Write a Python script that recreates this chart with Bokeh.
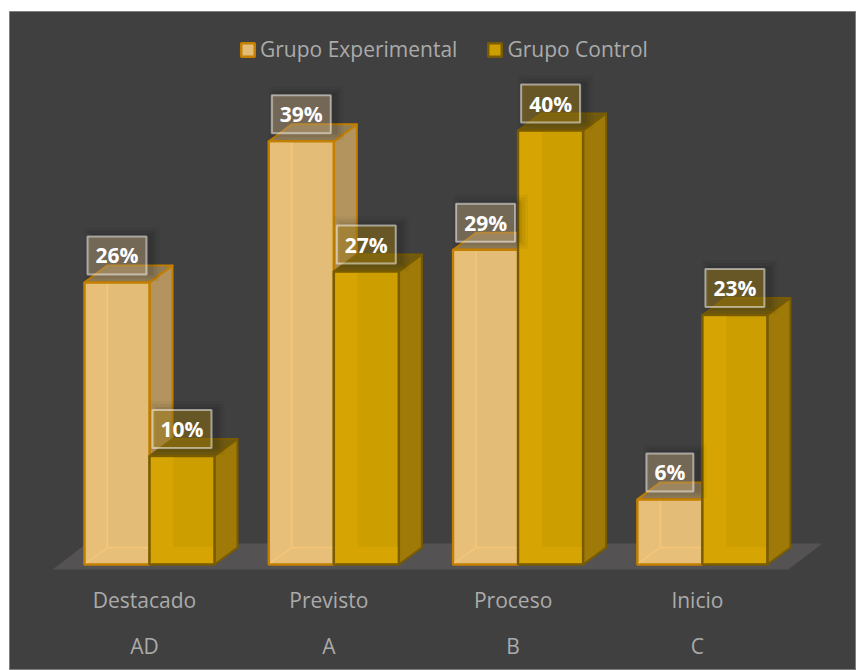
from bokeh.embed import file_html
from bokeh.resources import INLINE
from bokeh.models import ColumnDataSource, Legend, LegendItem
from bokeh.plotting import figure
from bokeh.core.properties import value

# Survey results per achievement level (percent)
niveles = ["Destacado", "Previsto", "Proceso", "Inicio"]
codigos = ["AD", "A", "B", "C"]
experimental = [26, 39, 29, 6]
control = [10, 27, 40, 23]

FONT = "Open Sans"

# Scales: pixels per category step and per percentage point
PX_X = 184.3
PX_Y = 10.85
ORIGIN_X = 149.0 - 9   # first category centre, measured from the frame's left edge
ORIGIN_Y = 564.0
FRAME_W = 847
FRAME_TOP = 11
FRAME_BOTTOM = 670

BAR_W = 65.0 / PX_X
DEPTH_X = 23 / PX_X
DEPTH_Y = 17 / PX_Y


def down(px):
    """Vertical distance in value units for a pixel distance."""
    return px / PX_Y


def across(px):
    """Horizontal distance in category units for a pixel distance."""
    return px / PX_X


p = figure(
    width=856, height=670, output_backend="svg", toolbar_location=None,
    x_axis_location=None, y_axis_location=None,
    x_range=(-ORIGIN_X / PX_X, (FRAME_W - ORIGIN_X) / PX_X),
    y_range=(-(FRAME_BOTTOM - ORIGIN_Y) / PX_Y, (ORIGIN_Y - FRAME_TOP) / PX_Y),
    min_border_left=9, min_border_top=11, min_border_right=0, min_border_bottom=0,
    background_fill_color="#404040", border_fill_color="#ffffff",
    outline_line_color="#7f7f7f", outline_line_width=1,
)
p.grid.visible = False

# Floor of the 3D box
first, last = 0, len(niveles) - 1
floor_left = first - BAR_W - across(32)
floor_right = last + BAR_W + across(21)
p.patch(
    [floor_left, floor_right, floor_right + across(34), floor_left + across(34)],
    [down(-5), down(-5), down(21), down(21)],
    fill_color="#545252", line_color=None,
)


def draw_series(values, offset, front, strip, inner, side, top, edge):
    lefts = [i + offset for i in range(len(values))]
    rights = [x + BAR_W for x in lefts]

    side_xs = [[r, r + DEPTH_X, r + DEPTH_X, r] for r in rights]
    side_ys = [[0, DEPTH_Y, v + DEPTH_Y, v] for v in values]
    p.patches(side_xs, side_ys, fill_color=side, line_color=edge, line_width=2, line_join="round")

    top_xs = [[l, r, r + DEPTH_X, l + DEPTH_X] for l, r in zip(lefts, rights)]
    top_ys = [[v, v, v + DEPTH_Y, v + DEPTH_Y] for v in values]
    p.patches(top_xs, top_ys, fill_color=top, line_color=edge, line_width=2, line_join="round")

    bars = p.vbar(
        x=[l + BAR_W / 2 for l in lefts], top=values, bottom=0, width=BAR_W,
        fill_color=front, line_color=edge, line_width=2.5,
    )

    # Interior faces seen through the translucent front
    strip_xs = [[l + across(1.5), l + DEPTH_X, l + DEPTH_X, l + across(1.5)] for l in lefts]
    strip_ys = [[down(1.5), DEPTH_Y, v - down(1.5), v - down(1.5)] for v in values]
    p.patches(strip_xs, strip_ys, fill_color=strip, line_color=None)
    floor_xs = [[l + across(1.5), r - across(1.5), r - across(1.5), l + DEPTH_X] for l, r in zip(lefts, rights)]
    floor_ys = [[down(1.5), down(1.5), DEPTH_Y, DEPTH_Y] for _ in values]
    p.patches(floor_xs, floor_ys, fill_color=strip, line_color=None)
    p.multi_line(
        [[l + DEPTH_X, l + DEPTH_X] for l in lefts],
        [[DEPTH_Y, v - down(1.5)] for v in values],
        line_color=inner, line_width=1.5,
    )
    p.multi_line(
        [[l + across(1.5), l + DEPTH_X, r - across(1.5)] for l, r in zip(lefts, rights)],
        [[down(1.5), DEPTH_Y, DEPTH_Y] for _ in values],
        line_color=inner, line_width=1.5,
    )
    return bars, lefts


bars_exp, lefts_exp = draw_series(
    experimental, -BAR_W, "#E3BC78", "#E8BF79", "#F6C678", "#B3945E", "#8F7C59", "#C27F00",
)
bars_ctl, lefts_ctl = draw_series(
    control, 0.0, "#CD9E00", "#D6A503", "#D6A503", "#9F7A08", "#6F5A12", "#7A5C00",
)

# Value labels: a soft shadow, a translucent box and the figure itself
label_x, label_y, label_w, label_t, label_fill = [], [], [], [], []
for vals, lefts, tint in ((experimental, lefts_exp, "#D1B386"), (control, lefts_ctl, "#B58D13")):
    for v, l in zip(vals, lefts):
        label_x.append(l + BAR_W / 2)
        label_y.append(v + down(27))
        label_w.append(47 if v < 10 else 59)
        label_t.append(f"{v}%")
        label_fill.append(tint)

src = ColumnDataSource(dict(x=label_x, y=label_y, w=label_w, t=label_t, c=label_fill))
shadow_x = [x + across(5) for x in label_x]
for grow, alpha in ((16, 0.04), (10, 0.05), (4, 0.07)):
    p.rect(
        x=shadow_x, y=[y + down(1) for y in label_y],
        width=[w + grow for w in label_w], height=38 + grow,
        width_units="screen", height_units="screen",
        fill_color="#000000", fill_alpha=alpha, line_color=None,
    )
p.rect(
    x="x", y="y", width="w", height=38, width_units="screen", height_units="screen",
    source=src, fill_color="c", fill_alpha=0.4,
    line_color="#ffffff", line_alpha=0.5, line_width=2,
)
p.text(
    x="x", y="y", text="t", source=src, text_color="#ffffff",
    text_font=value(FONT), text_font_style="bold", text_font_size="21px",
    text_align="center", text_baseline="middle",
)

# Two-line category labels below the floor
xs = list(range(len(niveles)))
p.text(
    x=[x - across(5) for x in xs], y=[down(-35)] * 4, text=niveles,
    text_color="#ABABAB", text_font=value(FONT), text_font_size="21px",
    text_align="center", text_baseline="middle",
)
p.text(
    x=[x - across(5) for x in xs], y=[down(-81)] * 4, text=codigos,
    text_color="#ABABAB", text_font=value(FONT), text_font_size="21px",
    text_align="center", text_baseline="middle",
)

legend = Legend(
    items=[
        LegendItem(label="Grupo Experimental", renderers=[bars_exp]),
        LegendItem(label="Grupo Control", renderers=[bars_ctl]),
    ],
    orientation="horizontal", location=(230, 607),
    background_fill_alpha=0, border_line_color=None,
    glyph_width=17, glyph_height=17, label_standoff=4, spacing=29,
    padding=0, margin=0,
    label_text_font=FONT, label_text_font_size="21px", label_text_color="#ABABAB",
)
p.add_layout(legend, "center")

open("out.html", "w").write(file_html(p, INLINE))
